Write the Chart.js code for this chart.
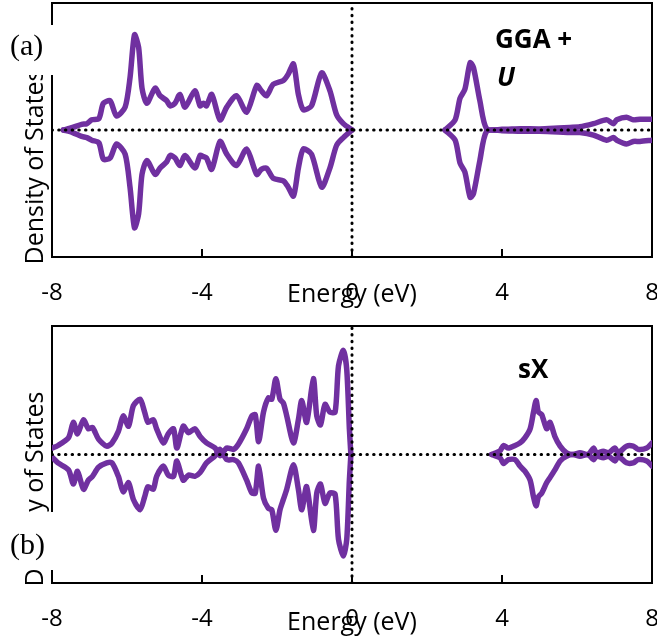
<!DOCTYPE html>
<html><head><meta charset="utf-8">
<script src="https://cdn.jsdelivr.net/npm/chart.js@4.4.0/dist/chart.umd.min.js"></script>
<style>
html,body{margin:0;padding:0;background:#fff;}
#wrap{position:relative;width:657px;height:639px;overflow:hidden;font-family:"Open Sans",sans-serif;color:#000;}
.cv{position:absolute;left:0;width:657px;}
.lbl{position:absolute;white-space:nowrap;color:#000;}
.ytitle{font-size:25px;line-height:25px;transform:translate(-50%,-50%) rotate(-90deg);}
.xtitle{font-size:25px;line-height:25px;transform:translateX(-50%);}
.box{position:absolute;background:#fff;}
.panel{font-family:"Liberation Serif",serif;font-size:30px;line-height:30px;position:absolute;}
.method{font-weight:bold;font-size:26px;line-height:26px;}
</style></head><body>
<div id="wrap">
  <div class="cv" style="top:0;height:320px"><canvas id="ca" width="657" height="320"></canvas></div>
  <div class="cv" style="top:323px;height:316px"><canvas id="cb" width="657" height="316"></canvas></div>

  <div class="lbl ytitle" style="left:33px;top:167px">Density of States</div>
  <div class="lbl ytitle" style="left:33px;top:489px">Density of States</div>

  <div class="box" style="left:3px;top:25px;width:52px;height:50px"><div class="panel" style="left:7px;top:5px">(a)</div></div>
  <div class="box" style="left:3px;top:512px;width:52px;height:58px"><div class="panel" style="left:7px;top:17px">(b)</div></div>

  <div class="lbl xtitle" style="left:352px;top:280px">Energy (eV)</div>
  <div class="lbl xtitle" style="left:352px;top:608px">Energy (eV)</div>

  <div class="lbl method" style="left:495px;top:25px">GGA +</div>
  <div class="lbl method" style="left:497px;top:63px;font-style:italic">U</div>
  <div class="lbl method" style="left:518px;top:355px">sX</div>
</div>
<script>
// ---- tick labels ----
const xTicks = [-8, -4, 0, 4, 8];
const xTickLabels = ['-8', '-4', '0', '4', '8'];

// ---- reference lines (zero DOS and Fermi level) ----
const zeroLineE = [-8, 8];
const fermiLineDos = [-1, 1];

// ---- panel (a) GGA+U ----
const energyA = [-7.7, -7.45, -7.21, -7.07, -6.94, -6.75, -6.63, -6.45, -6.28, -6.05, -5.92, -5.8, -5.69, -5.6, -5.47,
  -5.25, -5.12, -4.94, -4.85, -4.72, -4.59, -4.45, -4.19, -4.05, -3.96, -3.88, -3.74, -3.52, -3.34, -3.08, -2.81,
  -2.54, -2.42, -2.28, -2.1, -1.83, -1.7, -1.56, -1.43, -1.3, -1.08, -0.81, -0.59, -0.41, -0.23, 0,
  1.2,
  2.48, 2.75, 2.88, 3.01, 3.15, 3.24, 3.41, 3.59, 4.0, 4.5, 5.0, 5.5, 5.81, 6.08, 6.44, 6.79, 6.97, 7.06, 7.32, 7.5, 7.68, 8.0];
const upA = [0, 0.02, 0.045, 0.05, 0.08, 0.09, 0.21, 0.23, 0.11, 0.18, 0.41, 0.75, 0.65, 0.33, 0.21,
  0.33, 0.27, 0.23, 0.19, 0.21, 0.28, 0.18, 0.31, 0.19, 0.21, 0.19, 0.28, 0.08, 0.18, 0.27, 0.14,
  0.35, 0.31, 0.27, 0.36, 0.39, 0.44, 0.52, 0.28, 0.16, 0.19, 0.45, 0.31, 0.12, 0.05, 0,
  null,
  0, 0.08, 0.25, 0.32, 0.53, 0.49, 0.23, 0.01, 0.005, 0.01, 0.008, 0.015, 0.02, 0.025, 0.05, 0.08, 0.05, 0.08, 0.10, 0.08, 0.085, 0.085];
const downA = [0, -0.02, -0.05, -0.06, -0.08, -0.1, -0.23, -0.22, -0.11, -0.19, -0.45, -0.77, -0.66, -0.35, -0.24,
  -0.35, -0.30, -0.25, -0.2, -0.22, -0.28, -0.2, -0.3, -0.2, -0.21, -0.22, -0.31, -0.09, -0.19, -0.28, -0.15,
  -0.35, -0.31, -0.3, -0.38, -0.40, -0.45, -0.52, -0.30, -0.15, -0.19, -0.45, -0.30, -0.12, -0.06, 0,
  null,
  0, -0.08, -0.26, -0.33, -0.53, -0.5, -0.24, -0.01, -0.005, -0.01, -0.01, -0.015, -0.02, -0.02, -0.04, -0.08, -0.06, -0.08, -0.11, -0.09, -0.09, -0.08];

// ---- panel (b) sX ----
const energyB = [-8.0, -7.84, -7.56, -7.43, -7.32, -7.16, -7.03, -6.92, -6.76, -6.54, -6.4, -6.23, -6.10, -5.96, -5.83,
  -5.65, -5.53, -5.44, -5.30, -5.21, -5.03, -4.9, -4.76, -4.67, -4.5, -4.36, -4.19, -4.05, -3.88, -3.65,
  -3.52, -3.34, -3.16, -3.03, -2.81, -2.67, -2.58, -2.49, -2.36, -2.23, -2.14, -2.03, -1.92, -1.83, -1.74,
  -1.56, -1.43, -1.34, -1.21, -1.03, -0.94, -0.84, -0.72, -0.59, -0.45, -0.36, -0.23, -0.14, -0.07, -0.03,
  1.5,
  3.72, 3.95, 4.04, 4.17, 4.35, 4.48, 4.61, 4.75, 4.84, 4.91, 4.97, 5.06, 5.19, 5.28, 5.41, 5.55, 5.72, 5.9,
  6.08, 6.3, 6.44, 6.52, 6.7, 6.84, 7.01, 7.1, 7.32, 7.5, 7.63, 7.86, 8.0];
const upB = [0.05, 0.07, 0.13, 0.25, 0.16, 0.27, 0.20, 0.21, 0.12, 0.065, 0.09, 0.18, 0.30, 0.22, 0.38,
  0.43, 0.33, 0.25, 0.27, 0.2, 0.09, 0.16, 0.2, 0.05, 0.22, 0.17, 0.2, 0.14, 0.09, 0.05,
  -0.01, 0.05, 0.04, 0.08, 0.2, 0.3, 0.31, 0.10, 0.33, 0.44, 0.43, 0.59, 0.43, 0.40, 0.30,
  0.09, 0.27, 0.42, 0.25, 0.59, 0.3, 0.23, 0.39, 0.33, 0.33, 0.69, 0.81, 0.66, 0.2, 0,
  null,
  0, 0.03, 0.07, 0.05, 0.07, 0.09, 0.13, 0.2, 0.33, 0.42, 0.33, 0.31, 0.2, 0.25, 0.14, 0.065, 0.013, 0,
  0.013, 0, 0.05, 0.013, 0.026, 0.013, 0.05, 0.013, 0.065, 0.065, 0.04, 0.05, 0.09];
const downB = [-0.02, -0.065, -0.12, -0.23, -0.13, -0.27, -0.2, -0.17, -0.1, -0.065, -0.065, -0.17, -0.29, -0.22, -0.35,
  -0.43, -0.33, -0.25, -0.27, -0.17, -0.09, -0.16, -0.17, -0.05, -0.2, -0.16, -0.17, -0.14, -0.065, -0.01,
  0.04, -0.04, -0.04, -0.065, -0.2, -0.3, -0.3, -0.09, -0.34, -0.42, -0.43, -0.59, -0.43, -0.35, -0.27,
  -0.08, -0.27, -0.43, -0.25, -0.59, -0.3, -0.23, -0.38, -0.3, -0.31, -0.66, -0.79, -0.66, -0.2, 0,
  null,
  0, -0.026, -0.07, -0.04, -0.04, -0.09, -0.13, -0.2, -0.33, -0.40, -0.33, -0.3, -0.22, -0.18, -0.12, -0.05, -0.013, 0,
  -0.013, 0, -0.04, -0.013, -0.026, -0.013, -0.05, -0.013, -0.065, -0.065, -0.04, -0.05, -0.09];

const PURPLE = '#7030A0';

function pts(xs, ys) { return xs.map((x, i) => ({ x: x, y: ys[i] })); }

const framePlugin = {
  id: 'frame',
  beforeDatasetsDraw(chart) {
    const { ctx, chartArea: a, scales: { x } } = chart;
    ctx.save();
    ctx.strokeStyle = '#000';
    ctx.lineWidth = 2;
    ctx.strokeRect(a.left, a.top, a.right - a.left, a.bottom - a.top);
    xTicks.forEach(v => {
      if (v === xTicks[0] || v === xTicks[xTicks.length - 1]) return;
      const px = Math.round(x.getPixelForValue(v));
      ctx.beginPath();
      ctx.moveTo(px, a.bottom);
      ctx.lineTo(px, a.bottom - 8);
      ctx.stroke();
    });
    ctx.restore();
  }
};

function makeChart(id, energy, up, down, axisHeight) {
  const dotted = { borderColor: '#000', borderWidth: 3, borderDash: [0.5, 6.2], borderCapStyle: 'round',
    pointRadius: 0, tension: 0, order: 0 };
  const curve = { borderColor: PURPLE, borderWidth: 5.5, pointRadius: 0, tension: 0.25,
    spanGaps: false, order: 1, borderJoinStyle: 'round', borderCapStyle: 'round' };
  return new Chart(document.getElementById(id), {
    type: 'line',
    data: {
      datasets: [
        Object.assign({ data: pts(zeroLineE, [0, 0]) }, dotted),
        Object.assign({ data: pts([0, 0], fermiLineDos) }, dotted),
        Object.assign({ data: pts(energy, up) }, curve),
        Object.assign({ data: pts(energy, down) }, curve)
      ]
    },
    options: {
      responsive: false,
      animation: false,
      events: [],
      layout: { padding: { left: 52, right: 5, top: 3, bottom: 0 } },
      plugins: { legend: { display: false }, tooltip: { enabled: false } },
      scales: {
        x: {
          type: 'linear', min: xTicks[0], max: xTicks[xTicks.length - 1],
          grid: { display: false, drawTicks: false },
          border: { display: false },
          afterBuildTicks: s => { s.ticks = xTicks.map(v => ({ value: v })); },
          ticks: {
            color: '#000', font: { family: 'Open Sans', size: 24 }, padding: 22,
            maxRotation: 0, autoSkip: false,
            callback: (v, i) => xTickLabels[i]
          },
          afterFit: s => { s.height = axisHeight; s.paddingLeft = 0; s.paddingRight = 0; }
        },
        y: { display: false, min: -1, max: 1 }
      }
    },
    plugins: [framePlugin]
  });
}

makeChart('ca', energyA, upA, downA, 63);
makeChart('cb', energyB, upB, downB, 56);
</script>
</body></html>
